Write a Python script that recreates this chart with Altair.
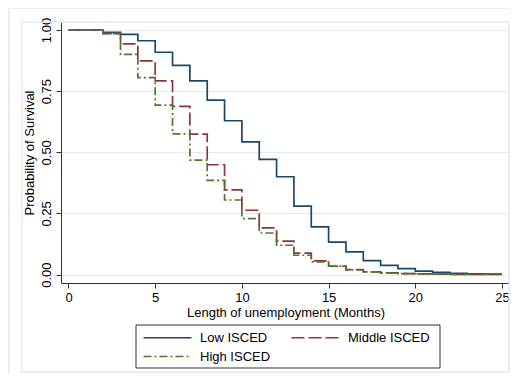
import altair as alt
import pandas as pd

months = list(range(26))
low_isced = [1.0, 1.0, 0.990, 0.982, 0.956, 0.909, 0.855, 0.792, 0.713, 0.629, 0.543,
             0.471, 0.400, 0.280, 0.195, 0.133, 0.093, 0.057, 0.038, 0.024, 0.014,
             0.009, 0.005, 0.003, 0.002, 0.002]
middle_isced = [1.0, 1.0, 0.985, 0.943, 0.874, 0.792, 0.688, 0.574, 0.449, 0.346, 0.263,
                0.191, 0.137, 0.088, 0.056, 0.034, 0.020, 0.011, 0.007, 0.004, 0.003,
                0.002, 0.001, 0.001, 0.001, 0.001]
high_isced = [1.0, 1.0, 0.985, 0.900, 0.805, 0.693, 0.575, 0.468, 0.385, 0.305, 0.229,
              0.170, 0.120, 0.079, 0.052, 0.035, 0.019, 0.011, 0.007, 0.004, 0.003,
              0.002, 0.001, 0.001, 0.001, 0.001]
groups = ["Low ISCED", "Middle ISCED", "High ISCED"]
colors = ["#1a476f", "#90353b", "#55752f"]
dashes = [[1, 0], [13, 4], [8, 3, 2, 3]]
x_ticks = [0, 5, 10, 15, 20, 25]
y_ticks = [0, 0.25, 0.5, 0.75, 1.0]

rows = []
for g, vals in zip(groups, [low_isced, middle_isced, high_isced]):
    for m, v in zip(months, vals):
        rows.append({"month": m, "surv": v, "group": g})
df = pd.DataFrame(rows)

W, H = 449, 261
FONT = "Liberation Sans"

legend = alt.Legend(
    title=None, orient="none", legendX=75, legendY=303, direction="horizontal",
    columns=2, symbolType="M-1,0L8.6,0", symbolSize=100, symbolStrokeWidth=1.7,
    labelFont=FONT, labelFontSize=13, labelColor="black", labelOffset=45,
    columnPadding=17, rowPadding=5, padding=6,
)

lines = alt.Chart(df).mark_line(interpolate="step-after", strokeWidth=1.7).encode(
    x=alt.X("month:Q", scale=alt.Scale(domain=[-0.432, 25.46], nice=False, zero=False),
            axis=alt.Axis(values=x_ticks, title="Length of unemployment (Months)", grid=False,
                          labelPadding=3, titlePadding=2)),
    y=alt.Y("surv:Q", scale=alt.Scale(domain=[-0.0344, 1.0327], nice=False, zero=False),
            axis=alt.Axis(values=y_ticks, format=".2f", title="Probability of Survival",
                          grid=True, gridColor="#e4ecef", gridWidth=1, labelAngle=270,
                          labelAlign="center", labelBaseline="bottom", labelPadding=3,
                          titlePadding=4)),
    color=alt.Color("group:N", scale=alt.Scale(domain=groups, range=colors), legend=legend),
    strokeDash=alt.StrokeDash("group:N", scale=alt.Scale(domain=groups, range=dashes), legend=legend),
)

frame_df = pd.DataFrame({"k": [0]})
outer = alt.Chart(frame_df).mark_rect(fill="transparent", stroke="#e3e9ec", strokeWidth=1.5).encode(
    x=alt.value(-52), x2=alt.value(W + 30), y=alt.value(-14), y2=alt.value(H + 130))
inner = alt.Chart(frame_df).mark_rect(fill="transparent", stroke="#e3e9ec", strokeWidth=1.5).encode(
    x=alt.value(-39), x2=alt.value(W - 1), y=alt.value(0), y2=alt.value(350))
legend_box = alt.Chart(frame_df).mark_rect(fill="transparent", stroke="#333333", strokeWidth=1).encode(
    x=alt.value(75), x2=alt.value(379), y=alt.value(303), y2=alt.value(346))

chart = alt.layer(outer, inner, legend_box, lines).properties(
    width=W, height=H,
    padding={"left": 53, "top": 14, "right": 0, "bottom": 90},
    autosize=alt.AutoSizeParams(type="none"),
).configure_view(stroke="transparent").configure_axis(
    domainColor="#333333", domainWidth=1, tickColor="#333333", tickSize=5, tickWidth=1,
    labelFont=FONT, labelFontSize=13, labelColor="black",
    titleFont=FONT, titleFontSize=13, titleFontWeight="normal", titleColor="black",
)

chart.save("out.html", embed_options={"renderer": "svg", "actions": False})
